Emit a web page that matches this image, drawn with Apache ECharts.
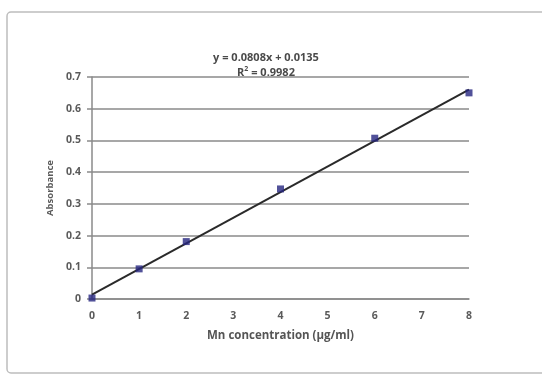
<!DOCTYPE html>
<html>
<head>
<meta charset="utf-8">
<script src="https://cdn.jsdelivr.net/npm/echarts@6/dist/echarts.min.js"></script>
<style>
html,body{margin:0;padding:0;background:#fff;}
#c{width:542px;height:376px;}
</style>
</head>
<body>
<div id="c"></div>
<script>
// Data
var concentrations = [0, 1, 2, 4, 6, 8];
var absorbance = [0.003, 0.095, 0.181, 0.347, 0.507, 0.650];
var trendX = [0, 8];
var trendY = [0.0135, 0.6599];
var equationText = 'y = 0.0808x + 0.0135';
var r2Label = 'R';
var r2Value = ' = 0.9982';
var xAxisTitle = 'Mn concentration (\u00b5g/ml)';
var yAxisTitle = 'Absorbance';

var pts = concentrations.map(function (x, i) { return [x, absorbance[i]]; });
var trend = trendX.map(function (x, i) { return [x, trendY[i]]; });

var FONT = '"Open Sans", "Liberation Sans", sans-serif';
var chart = echarts.init(document.getElementById('c'), null, {renderer: 'canvas'});
chart.setOption({
  animation: false,
  backgroundColor: '#fff',
  graphic: [{
    type: 'rect',
    shape: {x: 7, y: 12, width: 560, height: 361, r: 4},
    style: {fill: 'none', stroke: '#bdbdbd', lineWidth: 1.5},
    z: -1
  }],
  title: {
    left: 261,
    top: 45,
    textAlign: 'center',
    text: '{a|' + equationText + '}\n{a|' + r2Label + '}{s|2}{a|' + r2Value + '}',
    textStyle: {
      rich: {
        a: {fontFamily: FONT, fontSize: 11, fontWeight: 'bold', color: '#4a4a4a', lineHeight: 15},
        s: {fontFamily: FONT, fontSize: 7, fontWeight: 'bold', color: '#4a4a4a', verticalAlign: 'top', lineHeight: 15, padding: [0, 0, 5, 0]}
      }
    }
  },
  grid: {left: 92, right: 73, top: 77, bottom: 77, containLabel: false},
  xAxis: {
    type: 'value',
    min: 0, max: 8, interval: 1,
    name: xAxisTitle,
    nameLocation: 'middle',
    nameGap: 31,
    nameTextStyle: {fontFamily: FONT, fontSize: 11.5, fontWeight: 'bold', color: '#555'},
    axisLine: {show: true, lineStyle: {color: '#8a8a8a', width: 1.5}},
    axisTick: {show: false},
    axisLabel: {fontFamily: FONT, fontSize: 10.5, fontWeight: 'bold', color: '#5a5a5a', margin: 12},
    splitLine: {show: false}
  },
  yAxis: {
    type: 'value',
    min: 0, max: 0.7, interval: 0.1,
    name: yAxisTitle,
    nameLocation: 'middle',
    nameGap: 36,
    nameRotate: 90,
    nameTextStyle: {fontFamily: FONT, fontSize: 9.5, fontWeight: 'bold', color: '#5a5a5a'},
    axisLine: {show: true, lineStyle: {color: '#8a8a8a', width: 1.5}},
    axisTick: {show: true, inside: false, length: 5, lineStyle: {color: '#8a8a8a', width: 1.5}},
    axisLabel: {fontFamily: FONT, fontSize: 10.5, fontWeight: 'bold', color: '#5a5a5a', margin: 11},
    splitLine: {show: true, lineStyle: {color: '#8a8a8a', width: 1.5}}
  },
  series: [
    {
      type: 'line',
      data: trend,
      symbol: 'none',
      lineStyle: {color: '#2a2a2a', width: 2},
      z: 2
    },
    {
      type: 'scatter',
      data: pts,
      symbol: 'rect',
      symbolSize: 7,
      itemStyle: {color: '#252580'},
      z: 3
    }
  ]
});
</script>
</body>
</html>
